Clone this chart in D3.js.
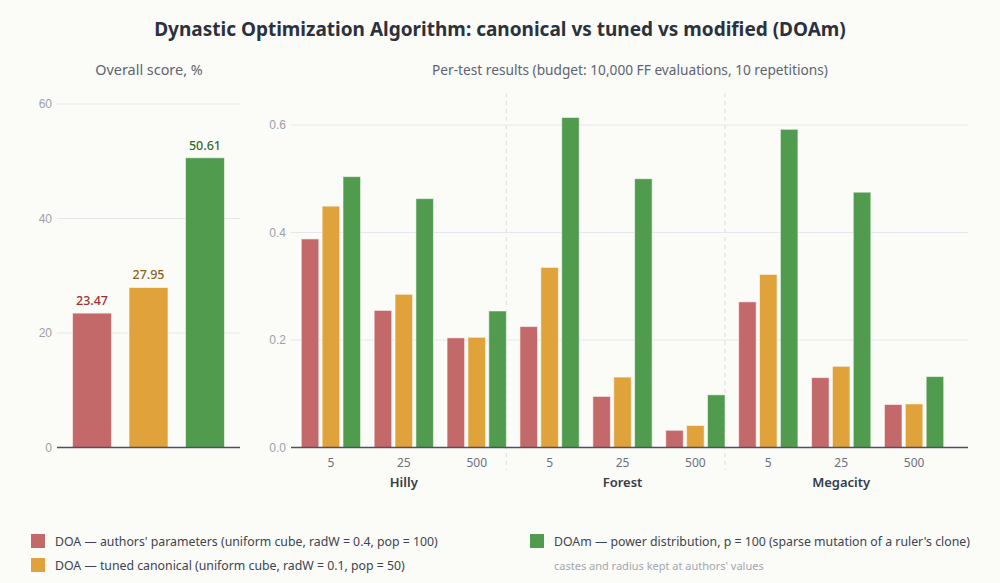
<!DOCTYPE html>
<html lang="en">
<head>
  <meta charset="UTF-8">
  <title>DOA comparison</title>
  <style>
    body{ margin:0; background:#fbfbf7; }
    svg{ display:block; font-family:"Noto Sans", "Open Sans", sans-serif; }
    .grid line{ stroke:#e6e7ec; stroke-width:1; }
    .tick text{ fill:#9ca1ab; font-size:12px; }
  </style>
</head>
<body>
<svg id="chart" width="1000" height="583"></svg>

<script src="https://cdn.jsdelivr.net/npm/d3@7"></script>
<script>
  "use strict";

  var
    seriesNames = ["DOA — authors' parameters (uniform cube, radW = 0.4, pop = 100)",
                   "DOA — tuned canonical (uniform cube, radW = 0.1, pop = 50)",
                   "DOAm — power distribution, p = 100 (sparse mutation of a ruler's clone)"],
    seriesKeys = ["authors","tuned","doam"],
    colors = ["#c4696a","#e0a23b","#519b4e"],
    labelColors = ["#9b2f32","#8d6218","#2f6b2d"],
    overallScores = [23.47, 27.95, 50.61],
    overallTicks = [0,20,40,60],
    groups = ["Hilly","Forest","Megacity"],
    dims = ["5","25","500"],
    authorsVals = [0.388,0.255,0.204, 0.225,0.095,0.032, 0.271,0.130,0.080],
    tunedVals   = [0.449,0.285,0.205, 0.335,0.131,0.041, 0.322,0.151,0.081],
    doamVals    = [0.504,0.463,0.254, 0.614,0.500,0.098, 0.592,0.475,0.132],
    testTicks = [0,0.2,0.4,0.6];

  var svg = d3.select("#chart");

  // title + panel titles
  svg.append("text").attr("x",500).attr("y",36).attr("text-anchor","middle")
    .attr("font-size",19).attr("font-weight",700).attr("fill","#2b313d")
    .text("Dynastic Optimization Algorithm: canonical vs tuned vs modified (DOAm)");
  svg.append("text").attr("x",149).attr("y",75).attr("text-anchor","middle")
    .attr("font-size",14.4).attr("fill","#5d6472").text("Overall score, %");
  svg.append("text").attr("x",630).attr("y",75).attr("text-anchor","middle")
    .attr("font-size",13.7).attr("fill","#5d6472")
    .text("Per-test results (budget: 10,000 FF evaluations, 10 repetitions)");

  // ---- left panel: overall score
  var y1 = d3.scaleLinear().domain([0,60]).range([447.5,104]);
  var x1 = d3.scaleBand().domain(seriesKeys).range([57,240]).paddingInner(0.31).paddingOuter(0.275);

  var left = svg.append("g");
  left.append("g").attr("class","grid")
    .selectAll("line").data(overallTicks.slice(1)).enter().append("line")
    .attr("x1",57).attr("x2",240)
    .attr("y1",function(d){ return y1(d); }).attr("y2",function(d){ return y1(d); });

  var ay1 = left.append("g").attr("transform","translate(57,0)")
    .call(d3.axisLeft(y1).tickValues(overallTicks).tickSize(0).tickPadding(5));
  ay1.select(".domain").remove();

  left.selectAll("rect").data(overallScores).enter().append("rect")
    .attr("x",function(d,i){ return x1(seriesKeys[i]); })
    .attr("y",function(d){ return y1(d); })
    .attr("width",x1.bandwidth())
    .attr("height",function(d){ return y1(0) - y1(d); })
    .attr("fill",function(d,i){ return colors[i]; })
    .attr("stroke","rgba(255,255,255,0.55)").attr("stroke-width",1);

  left.selectAll("text.val").data(overallScores).enter().append("text")
    .attr("class","val")
    .attr("x",function(d,i){ return x1(seriesKeys[i]) + x1.bandwidth()/2; })
    .attr("y",function(d){ return y1(d) - 8; })
    .attr("text-anchor","middle").attr("font-size",12.5).attr("font-weight",500)
    .attr("fill",function(d,i){ return labelColors[i]; })
    .text(function(d){ return d.toFixed(2); });

  left.append("line").attr("x1",57).attr("x2",240).attr("y1",y1(0)).attr("y2",y1(0))
    .attr("stroke","#4b5260").attr("stroke-width",1.5);

  // ---- right panel: per test
  var cats = [];
  groups.forEach(function(g){ dims.forEach(function(d){ cats.push(g + "|" + d); }); });

  var y2 = d3.scaleLinear().domain([0,0.6]).range([447.5,125]);
  var x2 = d3.scaleBand().domain(cats).range([294.5,950.5]).paddingInner(0.187).paddingOuter(0.093);
  var xs = d3.scaleBand().domain(seriesKeys).range([0,x2.bandwidth()]).paddingInner(0.16);

  var right = svg.append("g");
  right.append("g").attr("class","grid")
    .selectAll("line").data(testTicks.slice(1)).enter().append("line")
    .attr("x1",291).attr("x2",968)
    .attr("y1",function(d){ return y2(d); }).attr("y2",function(d){ return y2(d); });

  var ay2 = right.append("g").attr("transform","translate(291,0)")
    .call(d3.axisLeft(y2).tickValues(testTicks).tickFormat(d3.format(".1f")).tickSize(0).tickPadding(5));
  ay2.select(".domain").remove();

  // group dividers at the end of each group's last band
  [2,5].forEach(function(i){
    var xd = x2(cats[i]) + x2.bandwidth();
    right.append("line").attr("x1",xd).attr("x2",xd).attr("y1",93).attr("y2",470)
      .attr("stroke","#dcdde2").attr("stroke-dasharray","4,4");
  });

  var valueSets = [authorsVals, tunedVals, doamVals];
  valueSets.forEach(function(vals, s){
    right.append("g").selectAll("rect").data(vals).enter().append("rect")
      .attr("x",function(d,i){ return x2(cats[i]) + xs(seriesKeys[s]); })
      .attr("y",function(d){ return y2(d); })
      .attr("width",xs.bandwidth())
      .attr("height",function(d){ return y2(0) - y2(d); })
      .attr("fill",colors[s])
      .attr("stroke","rgba(255,255,255,0.55)").attr("stroke-width",1);
  });

  right.append("line").attr("x1",291).attr("x2",968).attr("y1",y2(0)).attr("y2",y2(0))
    .attr("stroke","#4b5260").attr("stroke-width",1.5);

  right.selectAll("text.dim").data(cats).enter().append("text")
    .attr("class","dim")
    .attr("x",function(d){ return x2(d) + x2.bandwidth()/2; })
    .attr("y",467).attr("text-anchor","middle").attr("font-size",12).attr("fill","#6b717d")
    .text(function(d){ return d.split("|")[1]; });

  right.selectAll("text.grp").data(groups).enter().append("text")
    .attr("class","grp")
    .attr("x",function(g){ return x2(g + "|25") + x2.bandwidth()/2; })
    .attr("y",487).attr("text-anchor","middle").attr("font-size",13).attr("font-weight",600)
    .attr("fill","#353b47")
    .text(function(g){ return g; });

  // ---- legend
  var legendPos = [[31,534],[31,558],[530,534]];
  var legend = svg.append("g");
  seriesNames.forEach(function(name, i){
    legend.append("rect").attr("x",legendPos[i][0]).attr("y",legendPos[i][1])
      .attr("width",14).attr("height",14).attr("fill",colors[i]);
    legend.append("text").attr("x",legendPos[i][0] + 24).attr("y",legendPos[i][1] + 11.5)
      .attr("font-size",12.3).attr("fill","#3d4350").text(name);
  });
  legend.append("text").attr("x",554).attr("y",570)
    .attr("font-size",11).attr("fill","#a3a7b0").text("castes and radius kept at authors' values");
</script>
</body>
</html>
